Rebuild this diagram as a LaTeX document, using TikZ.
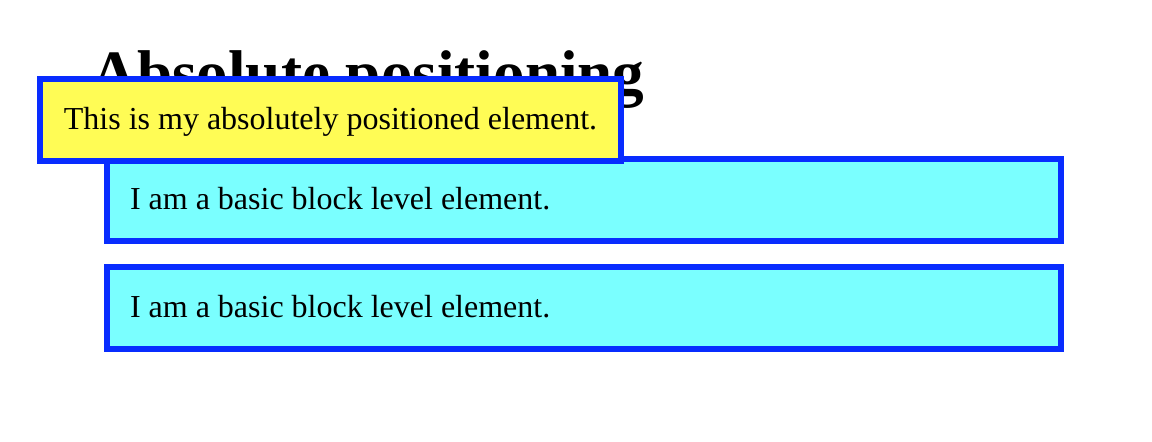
\documentclass[tikz,border=0pt]{standalone}
\usepackage{fontspec}
\setmainfont{Liberation Serif}
\usepackage{xcolor}
\usepackage{tikz}
\usetikzlibrary{positioning}

\definecolor{edgeblue}{RGB}{8,44,255}
\definecolor{blockcyan}{RGB}{122,255,255}
\definecolor{absyellow}{RGB}{255,252,85}

\begin{document}
\begin{tikzpicture}[x=0.5pt,y=-0.5pt,node distance=10pt]
 				 \tikzstyle{blockbox}=[rectangle, draw=edgeblue, line width=3pt, fill=blockcyan, minimum height=41pt, text width=454pt, text justified, inner xsep=11.5pt, inner ysep=0pt, text height=11pt, text depth=1pt, font=\fontsize{16pt}{19pt}\selectfont]
 				 \tikzstyle{absbox}=[rectangle, draw=edgeblue, line width=3pt, fill=absyellow, minimum height=41pt, minimum width=290.5pt, inner xsep=11pt, inner ysep=0pt, text height=11pt, text depth=1pt, font=\fontsize{16pt}{19pt}\selectfont]
 					 \useasboundingbox (0,0) rectangle (1152,442);
 					 \node[anchor=base west, inner sep=0pt, font=\fontsize{31.6pt}{38pt}\selectfont\bfseries] (title) at (91,95) {Absolute positioning};
 					 \node[blockbox, anchor=north west] (blockA) at (104,156) {I am a basic block level element.};
 					 \node[blockbox] (blockB) [below=of blockA] {I am a basic block level element.};
 					 \node[absbox, anchor=north west] (absel) at (37,76) {This is my absolutely positioned element.};
\end{tikzpicture}
\end{document}
